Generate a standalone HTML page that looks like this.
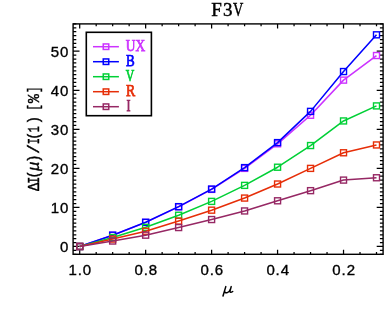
<!DOCTYPE html>
<html><head><meta charset="utf-8"><title>F3V</title>
<style>
html,body{margin:0;padding:0;background:#fff;}
body{width:387px;height:309px;overflow:hidden;}
svg{display:block;will-change:transform;}
svg{font-family:"Liberation Sans",sans-serif;}
.tk{font-family:"Liberation Sans",sans-serif;font-size:15px;letter-spacing:0.9px;fill:#000;stroke:#000;stroke-width:0.35px;}
.sf{font-family:"Liberation Serif",serif;}
</style></head><body>
<svg width="387" height="309" viewBox="0 0 387 309">
<rect width="387" height="309" fill="#fff"/>
<rect x="73.10" y="23.90" width="310.00" height="230.40" fill="none" stroke="#000" stroke-width="1.4"/>
<path d="M79.70 254.30v-4.6M79.70 23.90v4.6M96.19 254.30v-2.3M96.19 23.90v2.3M112.67 254.30v-2.3M112.67 23.90v2.3M129.16 254.30v-2.3M129.16 23.90v2.3M145.65 254.30v-4.6M145.65 23.90v4.6M162.14 254.30v-2.3M162.14 23.90v2.3M178.63 254.30v-2.3M178.63 23.90v2.3M195.12 254.30v-2.3M195.12 23.90v2.3M211.61 254.30v-4.6M211.61 23.90v4.6M228.10 254.30v-2.3M228.10 23.90v2.3M244.59 254.30v-2.3M244.59 23.90v2.3M261.08 254.30v-2.3M261.08 23.90v2.3M277.57 254.30v-4.6M277.57 23.90v4.6M294.06 254.30v-2.3M294.06 23.90v2.3M310.55 254.30v-2.3M310.55 23.90v2.3M327.04 254.30v-2.3M327.04 23.90v2.3M343.53 254.30v-4.6M343.53 23.90v4.6M360.01 254.30v-2.3M360.01 23.90v2.3M376.50 254.30v-2.3M376.50 23.90v2.3M73.10 254.30h3.2M383.10 254.30h-3.2M73.10 250.39h3.2M383.10 250.39h-3.2M73.10 246.49h6.4M383.10 246.49h-6.4M73.10 242.58h3.2M383.10 242.58h-3.2M73.10 238.68h3.2M383.10 238.68h-3.2M73.10 234.77h3.2M383.10 234.77h-3.2M73.10 230.87h3.2M383.10 230.87h-3.2M73.10 226.96h3.2M383.10 226.96h-3.2M73.10 223.06h3.2M383.10 223.06h-3.2M73.10 219.15h3.2M383.10 219.15h-3.2M73.10 215.25h3.2M383.10 215.25h-3.2M73.10 211.34h3.2M383.10 211.34h-3.2M73.10 207.44h6.4M383.10 207.44h-6.4M73.10 203.53h3.2M383.10 203.53h-3.2M73.10 199.63h3.2M383.10 199.63h-3.2M73.10 195.72h3.2M383.10 195.72h-3.2M73.10 191.82h3.2M383.10 191.82h-3.2M73.10 187.91h3.2M383.10 187.91h-3.2M73.10 184.01h3.2M383.10 184.01h-3.2M73.10 180.10h3.2M383.10 180.10h-3.2M73.10 176.20h3.2M383.10 176.20h-3.2M73.10 172.29h3.2M383.10 172.29h-3.2M73.10 168.39h6.4M383.10 168.39h-6.4M73.10 164.48h3.2M383.10 164.48h-3.2M73.10 160.58h3.2M383.10 160.58h-3.2M73.10 156.67h3.2M383.10 156.67h-3.2M73.10 152.77h3.2M383.10 152.77h-3.2M73.10 148.86h3.2M383.10 148.86h-3.2M73.10 144.96h3.2M383.10 144.96h-3.2M73.10 141.05h3.2M383.10 141.05h-3.2M73.10 137.15h3.2M383.10 137.15h-3.2M73.10 133.24h3.2M383.10 133.24h-3.2M73.10 129.34h6.4M383.10 129.34h-6.4M73.10 125.43h3.2M383.10 125.43h-3.2M73.10 121.53h3.2M383.10 121.53h-3.2M73.10 117.62h3.2M383.10 117.62h-3.2M73.10 113.72h3.2M383.10 113.72h-3.2M73.10 109.81h3.2M383.10 109.81h-3.2M73.10 105.91h3.2M383.10 105.91h-3.2M73.10 102.00h3.2M383.10 102.00h-3.2M73.10 98.10h3.2M383.10 98.10h-3.2M73.10 94.19h3.2M383.10 94.19h-3.2M73.10 90.29h6.4M383.10 90.29h-6.4M73.10 86.38h3.2M383.10 86.38h-3.2M73.10 82.48h3.2M383.10 82.48h-3.2M73.10 78.57h3.2M383.10 78.57h-3.2M73.10 74.67h3.2M383.10 74.67h-3.2M73.10 70.76h3.2M383.10 70.76h-3.2M73.10 66.86h3.2M383.10 66.86h-3.2M73.10 62.95h3.2M383.10 62.95h-3.2M73.10 59.05h3.2M383.10 59.05h-3.2M73.10 55.14h3.2M383.10 55.14h-3.2M73.10 51.24h6.4M383.10 51.24h-6.4M73.10 47.33h3.2M383.10 47.33h-3.2M73.10 43.43h3.2M383.10 43.43h-3.2M73.10 39.52h3.2M383.10 39.52h-3.2M73.10 35.62h3.2M383.10 35.62h-3.2M73.10 31.71h3.2M383.10 31.71h-3.2M73.10 27.81h3.2M383.10 27.81h-3.2M73.10 23.90h3.2M383.10 23.90h-3.2" stroke="#000" stroke-width="1.25" fill="none"/>
<text class="tk" x="80.30" y="275.2" text-anchor="middle">1.0</text>
<text class="tk" x="146.25" y="275.2" text-anchor="middle">0.8</text>
<text class="tk" x="212.21" y="275.2" text-anchor="middle">0.6</text>
<text class="tk" x="278.17" y="275.2" text-anchor="middle">0.4</text>
<text class="tk" x="344.13" y="275.2" text-anchor="middle">0.2</text>
<text class="tk" x="69.3" y="252.49" text-anchor="end">0</text>
<text class="tk" x="69.3" y="213.44" text-anchor="end">10</text>
<text class="tk" x="69.3" y="174.39" text-anchor="end">20</text>
<text class="tk" x="69.3" y="135.34" text-anchor="end">30</text>
<text class="tk" x="69.3" y="96.29" text-anchor="end">40</text>
<text class="tk" x="69.3" y="57.24" text-anchor="end">50</text>
<g class="sf" font-size="19" stroke="#000" stroke-width="0.45"><text x="211.3" y="16">F</text><text x="223.0" y="16">3</text><text x="233.0" y="16" textLength="10.3" lengthAdjust="spacingAndGlyphs">V</text></g>
<path d="M225.8 286.6L223.0 296.0M224.7 290.6C224.3 292.7 225.9 293.1 227.3 292.6C228.8 292.0 230.0 290.6 230.6 288.6M231.2 286.6L230.0 291.0C229.7 292.5 230.9 292.9 232.7 291.5" stroke="#000" stroke-width="1.5" fill="none" stroke-linecap="round" stroke-linejoin="round"/>
<g transform="translate(38.6,191.2) rotate(-90)" font-size="17.0" style="font-family:'Liberation Mono',monospace" stroke="#000" stroke-width="0.45"><text transform="translate(0.119,0) scale(0.8105,1)">Δ</text><text transform="translate(7.546,0) scale(0.6880,1)">I</text><text transform="translate(12.433,0) scale(0.8339,1)">(</text><text transform="translate(20.541,0) scale(0.9082,1)" font-style="italic">μ</text><text transform="translate(28.313,0) scale(0.8558,1)">)</text><text transform="translate(37.276,0) scale(0.9768,1)">/</text><text transform="translate(46.869,0) scale(0.6148,1)">I</text><text transform="translate(51.133,0) scale(0.8339,1)">(</text><text transform="translate(58.877,0) scale(0.5889,1)">1</text><text transform="translate(66.836,0) scale(0.8119,1)">)</text><text transform="translate(80.801,0) scale(0.6167,1)">[</text><text transform="translate(88.100,0) scale(0.8717,1)">%</text><text transform="translate(98.269,0) scale(0.6387,1)">]</text></g>
<g stroke="#cc33ff" fill="none"><polyline points="79.70,246.49 112.67,235.24 145.65,222.40 178.63,206.85 211.61,189.40 244.59,168.39 277.57,143.79 310.55,115.28 343.53,80.13 376.50,55.53" stroke-width="1.55" stroke-linejoin="round"/><rect x="76.70" y="243.49" width="6.0" height="6.0" stroke-width="1.4"/><rect x="109.67" y="232.24" width="6.0" height="6.0" stroke-width="1.4"/><rect x="142.65" y="219.40" width="6.0" height="6.0" stroke-width="1.4"/><rect x="175.63" y="203.85" width="6.0" height="6.0" stroke-width="1.4"/><rect x="208.61" y="186.40" width="6.0" height="6.0" stroke-width="1.4"/><rect x="241.59" y="165.39" width="6.0" height="6.0" stroke-width="1.4"/><rect x="274.57" y="140.79" width="6.0" height="6.0" stroke-width="1.4"/><rect x="307.55" y="112.28" width="6.0" height="6.0" stroke-width="1.4"/><rect x="340.53" y="77.13" width="6.0" height="6.0" stroke-width="1.4"/><rect x="373.50" y="52.53" width="6.0" height="6.0" stroke-width="1.4"/></g>
<g stroke="#0000ff" fill="none"><polyline points="79.70,246.49 112.67,235.17 145.65,222.28 178.63,206.66 211.61,189.09 244.59,167.61 277.57,142.61 310.55,111.37 343.53,71.54 376.50,34.83" stroke-width="1.55" stroke-linejoin="round"/><rect x="76.70" y="243.49" width="6.0" height="6.0" stroke-width="1.4"/><rect x="109.67" y="232.17" width="6.0" height="6.0" stroke-width="1.4"/><rect x="142.65" y="219.28" width="6.0" height="6.0" stroke-width="1.4"/><rect x="175.63" y="203.66" width="6.0" height="6.0" stroke-width="1.4"/><rect x="208.61" y="186.09" width="6.0" height="6.0" stroke-width="1.4"/><rect x="241.59" y="164.61" width="6.0" height="6.0" stroke-width="1.4"/><rect x="274.57" y="139.61" width="6.0" height="6.0" stroke-width="1.4"/><rect x="307.55" y="108.37" width="6.0" height="6.0" stroke-width="1.4"/><rect x="340.53" y="68.54" width="6.0" height="6.0" stroke-width="1.4"/><rect x="373.50" y="31.83" width="6.0" height="6.0" stroke-width="1.4"/></g>
<g stroke="#00d036" fill="none"><polyline points="79.70,246.49 112.67,237.51 145.65,227.35 178.63,215.25 211.61,201.39 244.59,185.38 277.57,167.22 310.55,145.54 343.53,120.94 376.50,105.91" stroke-width="1.55" stroke-linejoin="round"/><rect x="76.70" y="243.49" width="6.0" height="6.0" stroke-width="1.4"/><rect x="109.67" y="234.51" width="6.0" height="6.0" stroke-width="1.4"/><rect x="142.65" y="224.35" width="6.0" height="6.0" stroke-width="1.4"/><rect x="175.63" y="212.25" width="6.0" height="6.0" stroke-width="1.4"/><rect x="208.61" y="198.39" width="6.0" height="6.0" stroke-width="1.4"/><rect x="241.59" y="182.38" width="6.0" height="6.0" stroke-width="1.4"/><rect x="274.57" y="164.22" width="6.0" height="6.0" stroke-width="1.4"/><rect x="307.55" y="142.54" width="6.0" height="6.0" stroke-width="1.4"/><rect x="340.53" y="117.94" width="6.0" height="6.0" stroke-width="1.4"/><rect x="373.50" y="102.91" width="6.0" height="6.0" stroke-width="1.4"/></g>
<g stroke="#e62e08" fill="none"><polyline points="79.70,246.49 112.67,239.07 145.65,231.26 178.63,221.11 211.61,210.17 244.59,198.07 277.57,184.01 310.55,168.39 343.53,152.77 376.50,144.96" stroke-width="1.55" stroke-linejoin="round"/><rect x="76.70" y="243.49" width="6.0" height="6.0" stroke-width="1.4"/><rect x="109.67" y="236.07" width="6.0" height="6.0" stroke-width="1.4"/><rect x="142.65" y="228.26" width="6.0" height="6.0" stroke-width="1.4"/><rect x="175.63" y="218.11" width="6.0" height="6.0" stroke-width="1.4"/><rect x="208.61" y="207.17" width="6.0" height="6.0" stroke-width="1.4"/><rect x="241.59" y="195.07" width="6.0" height="6.0" stroke-width="1.4"/><rect x="274.57" y="181.01" width="6.0" height="6.0" stroke-width="1.4"/><rect x="307.55" y="165.39" width="6.0" height="6.0" stroke-width="1.4"/><rect x="340.53" y="149.77" width="6.0" height="6.0" stroke-width="1.4"/><rect x="373.50" y="141.96" width="6.0" height="6.0" stroke-width="1.4"/></g>
<g stroke="#962864" fill="none"><polyline points="79.70,246.49 112.67,241.02 145.65,235.17 178.63,227.55 211.61,219.54 244.59,210.95 277.57,200.80 310.55,190.65 343.53,180.10 376.50,177.76" stroke-width="1.55" stroke-linejoin="round"/><rect x="76.70" y="243.49" width="6.0" height="6.0" stroke-width="1.4"/><rect x="109.67" y="238.02" width="6.0" height="6.0" stroke-width="1.4"/><rect x="142.65" y="232.17" width="6.0" height="6.0" stroke-width="1.4"/><rect x="175.63" y="224.55" width="6.0" height="6.0" stroke-width="1.4"/><rect x="208.61" y="216.54" width="6.0" height="6.0" stroke-width="1.4"/><rect x="241.59" y="207.95" width="6.0" height="6.0" stroke-width="1.4"/><rect x="274.57" y="197.80" width="6.0" height="6.0" stroke-width="1.4"/><rect x="307.55" y="187.65" width="6.0" height="6.0" stroke-width="1.4"/><rect x="340.53" y="177.10" width="6.0" height="6.0" stroke-width="1.4"/><rect x="373.50" y="174.76" width="6.0" height="6.0" stroke-width="1.4"/></g>
<rect x="86.3" y="32.3" width="65.1" height="83.4" fill="#fff" stroke="#000" stroke-width="1.6"/>
<g stroke="#cc33ff" fill="none"><path d="M93 46.70H118.9" stroke-width="1.5"/><rect x="103.25" y="43.95" width="5.5" height="5.5" stroke-width="1.5"/></g><text class="sf" x="125.8" y="50.50" font-size="15.8" fill="#cc33ff" stroke="#cc33ff" stroke-width="0.75" textLength="19.4" lengthAdjust="spacingAndGlyphs">UX</text>
<g stroke="#0000ff" fill="none"><path d="M93 61.70H118.9" stroke-width="1.5"/><rect x="103.25" y="58.95" width="5.5" height="5.5" stroke-width="1.5"/></g><text class="sf" x="126.0" y="65.50" font-size="15.8" fill="#0000ff" stroke="#0000ff" stroke-width="0.75" textLength="8.7" lengthAdjust="spacingAndGlyphs">B</text>
<g stroke="#00d036" fill="none"><path d="M93 76.70H118.9" stroke-width="1.5"/><rect x="103.25" y="73.95" width="5.5" height="5.5" stroke-width="1.5"/></g><text class="sf" x="125.8" y="80.50" font-size="15.8" fill="#00d036" stroke="#00d036" stroke-width="0.75" textLength="8.5" lengthAdjust="spacingAndGlyphs">V</text>
<g stroke="#e62e08" fill="none"><path d="M93 91.70H118.9" stroke-width="1.5"/><rect x="103.25" y="88.95" width="5.5" height="5.5" stroke-width="1.5"/></g><text class="sf" x="125.9" y="95.50" font-size="15.8" fill="#e62e08" stroke="#e62e08" stroke-width="0.75" textLength="9.2" lengthAdjust="spacingAndGlyphs">R</text>
<g stroke="#962864" fill="none"><path d="M93 106.70H118.9" stroke-width="1.5"/><rect x="103.25" y="103.95" width="5.5" height="5.5" stroke-width="1.5"/></g><text class="sf" x="126.4" y="110.50" font-size="15.8" fill="#962864" stroke="#962864" stroke-width="0.75" textLength="4.0" lengthAdjust="spacingAndGlyphs">I</text>
</svg>
</body></html>
